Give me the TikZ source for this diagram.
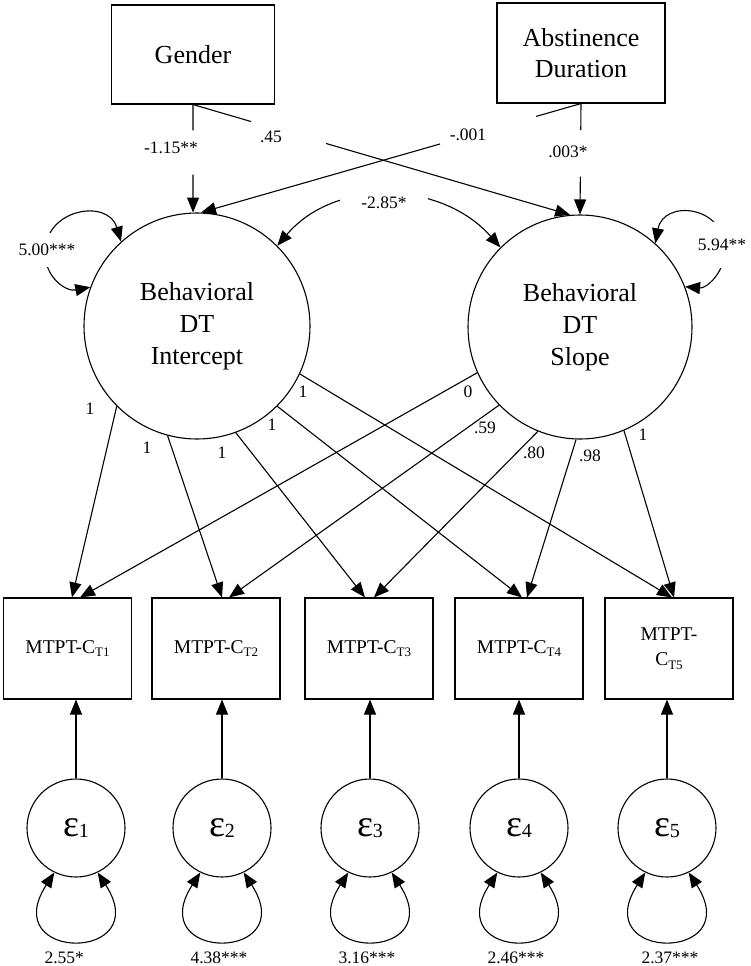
\documentclass[tikz,border=0pt]{standalone}
\usepackage{fontspec}
\setmainfont{Liberation Serif}
\usetikzlibrary{arrows.meta}
\newcommand\mysub[1]{\raisebox{-3.5pt}{\fontsize{13}{13}\selectfont #1}}
\newcommand\epsi[1]{{\fontsize{38}{38}\selectfont ε}\raisebox{-1.5pt}{\fontsize{20}{20}\selectfont #1}}
\begin{document}
\begin{tikzpicture}[x=1pt,y=-1pt,line width=1.1pt,
  arr/.style={-{Triangle[length=15pt,width=12pt]}},
  darr/.style={{Triangle[length=15pt,width=12pt]}-{Triangle[length=15pt,width=12pt]}},
  obs/.style={draw,rectangle,inner sep=0pt},
  lat/.style={draw,circle,inner sep=0pt},
  bigtxt/.style={font=\fontsize{26}{31}\selectfont,align=center},
  boxtxt/.style={font=\fontsize{19.5}{25}\selectfont,align=center},
  lbl/.style={font=\fontsize{17.5}{20}\selectfont,inner sep=1pt}]
\useasboundingbox (0,0) rectangle (750,966);

% exogenous boxes
\node[obs,bigtxt,minimum width=163pt,minimum height=99pt] (gender) at (193,54.5) {Gender};
\node[obs,bigtxt,minimum width=168pt,minimum height=100pt] (abst) at (581,53) {Abstinence\\Duration};

% latent growth factors
\node[lat,bigtxt,font=\fontsize{26}{32}\selectfont,minimum size=226pt] (int) at (197,326) {Behavioral\\DT\\Intercept};
\node[lat,bigtxt,font=\fontsize{26}{32}\selectfont,minimum size=224pt] (slope) at (580,327) {Behavioral\\DT\\Slope};

% observed indicators
\node[obs,boxtxt,minimum width=128pt,minimum height=101pt] (b1) at (67.5,648.5) {MTPT-C\mysub{T1}};
\node[obs,boxtxt,minimum width=128pt,minimum height=101pt] (b2) at (216,648.5) {MTPT-C\mysub{T2}};
\node[obs,boxtxt,minimum width=128pt,minimum height=101pt] (b3) at (369,648.5) {MTPT-C\mysub{T3}};
\node[obs,boxtxt,minimum width=128pt,minimum height=101pt] (b4) at (519,648.5) {MTPT-C\mysub{T4}};
\node[obs,boxtxt,minimum width=128pt,minimum height=101pt] (b5) at (669,648.5) {MTPT-\\C\mysub{T5}};

% residuals
\node[lat,minimum size=98pt] (e1) at (76,828) {\epsi{1}};
\node[lat,minimum size=98pt] (e2) at (222,828) {\epsi{2}};
\node[lat,minimum size=98pt] (e3) at (370,828) {\epsi{3}};
\node[lat,minimum size=98pt] (e4) at (519,828) {\epsi{4}};
\node[lat,minimum size=98pt] (e5) at (667,828) {\epsi{5}};

% regressions (broken lines around labels)
\path (gender.south) -- coordinate[pos=0.24] (g1a) coordinate[pos=0.65] (g1b) (int.92);
\draw (gender.south) -- (g1a);
\draw[arr] (g1b) -- (int.92);
\path (gender.south) -- coordinate[pos=0.154] (g2a) coordinate[pos=0.353] (g2b) (slope.95);
\draw (gender.south) -- (g2a);
\draw[arr] (g2b) -- (slope.95);
\path (abst.south) -- coordinate[pos=0.118] (a1a) coordinate[pos=0.371] (a1b) (int.88);
\draw (abst.south) -- (a1a);
\draw[arr] (a1b) -- (int.88);
\path (abst.south) -- coordinate[pos=0.24] (a2a) coordinate[pos=0.66] (a2b) (slope.north);
\draw (abst.south) -- (a2a);
\draw[arr] (a2b) -- (slope.north);

\node[lbl] (l1) at (171,148) {-1.15**};
\node[lbl] (l2) at (271,137) {.45};
\node[lbl] (l3) at (468,135) {-.001};
\node[lbl] (l4) at (568,152) {.003*};

% covariance
\draw[darr] (int.45) .. controls +(58,-68) and +(-59,-67) .. (slope.135);
\node[lbl,fill=white,minimum width=88pt,minimum height=22pt] (l5) at (384,203) {-2.85*};

% variances of growth factors
\draw[darr] (int.132) .. controls +(-12.7,-43.2) and (45,208) .. (45,253) .. controls (45,277.6) and +(-24.1,4.8) .. (int.160);
\node[lbl,fill=white,minimum height=34pt] (vi) at (47,250) {5.00***};
\draw[darr] (slope.48) .. controls +(8.3,-44.2) and (725,205) .. (725,250) .. controls (725,271.8) and +(21.7,2) .. (slope.21);
\node[lbl,fill=white,minimum height=46pt] (vs) at (722,245) {5.94**};

% loadings
\draw[arr] (int.-135) -- ([xshift=4.5pt]b1.north);
\draw[arr] (int.-105) -- ([xshift=6pt]b2.north);
\draw[arr] (int.-70) -- ([xshift=-4pt]b3.north);
\draw[arr] (int.-45) -- ([xshift=3pt]b4.north);
\draw[arr] (int.-25) -- ([xshift=3pt]b5.north);
\draw[arr] (slope.-156) -- ([xshift=12.5pt]b1.north);
\draw[arr] (slope.-136) -- ([xshift=13pt]b2.north);
\draw[arr] (slope.-112) -- ([xshift=5pt]b3.north);
\draw[arr] (slope.-92) -- ([xshift=8pt]b4.north);
\draw[arr] (slope.-67) -- ([xshift=5pt]b5.north);

\node[lbl] (i1) at (90,409) {1};
\node[lbl] (i2) at (147,448) {1};
\node[lbl] (i3) at (222,453) {1};
\node[lbl] (i4) at (272,425) {1};
\node[lbl] (i5) at (303,392) {1};
\node[lbl] (s1) at (468,392) {0};
\node[lbl] (s2) at (485,428) {.59};
\node[lbl] (s3) at (534,453) {.80};
\node[lbl] (s4) at (590,456) {.98};
\node[lbl] (s5) at (643,435) {1};

% residual paths
\draw[arr] (e1.north) -- (e1.north |- b1.south);
\draw[arr] (e2.north) -- (e2.north |- b2.south);
\draw[arr] (e3.north) -- (e3.north |- b3.south);
\draw[arr] (e4.north) -- (e4.north |- b4.south);
\draw[arr] (e5.north) -- (e5.north |- b5.south);

% residual variances
\draw[darr] (e1.-116) .. controls +(-58,90) and +(58,90) .. (e1.-64);
\draw[darr] (e2.-116) .. controls +(-58,90) and +(58,90) .. (e2.-64);
\draw[darr] (e3.-116) .. controls +(-58,90) and +(58,90) .. (e3.-64);
\draw[darr] (e4.-116) .. controls +(-58,90) and +(58,90) .. (e4.-64);
\draw[darr] (e5.-116) .. controls +(-58,90) and +(58,90) .. (e5.-64);

\node[lbl,anchor=west] (v1) at ([xshift=-33pt,yshift=-80pt]e1.south) {2.55*};
\node[lbl,anchor=west] (v2) at ([xshift=-33pt,yshift=-80pt]e2.south) {4.38***};
\node[lbl,anchor=west] (v3) at ([xshift=-33pt,yshift=-80pt]e3.south) {3.16***};
\node[lbl,anchor=west] (v4) at ([xshift=-33pt,yshift=-80pt]e4.south) {2.46***};
\node[lbl,anchor=west] (v5) at ([xshift=-27pt,yshift=-80pt]e5.south) {2.37***};
\end{tikzpicture}
\end{document}
